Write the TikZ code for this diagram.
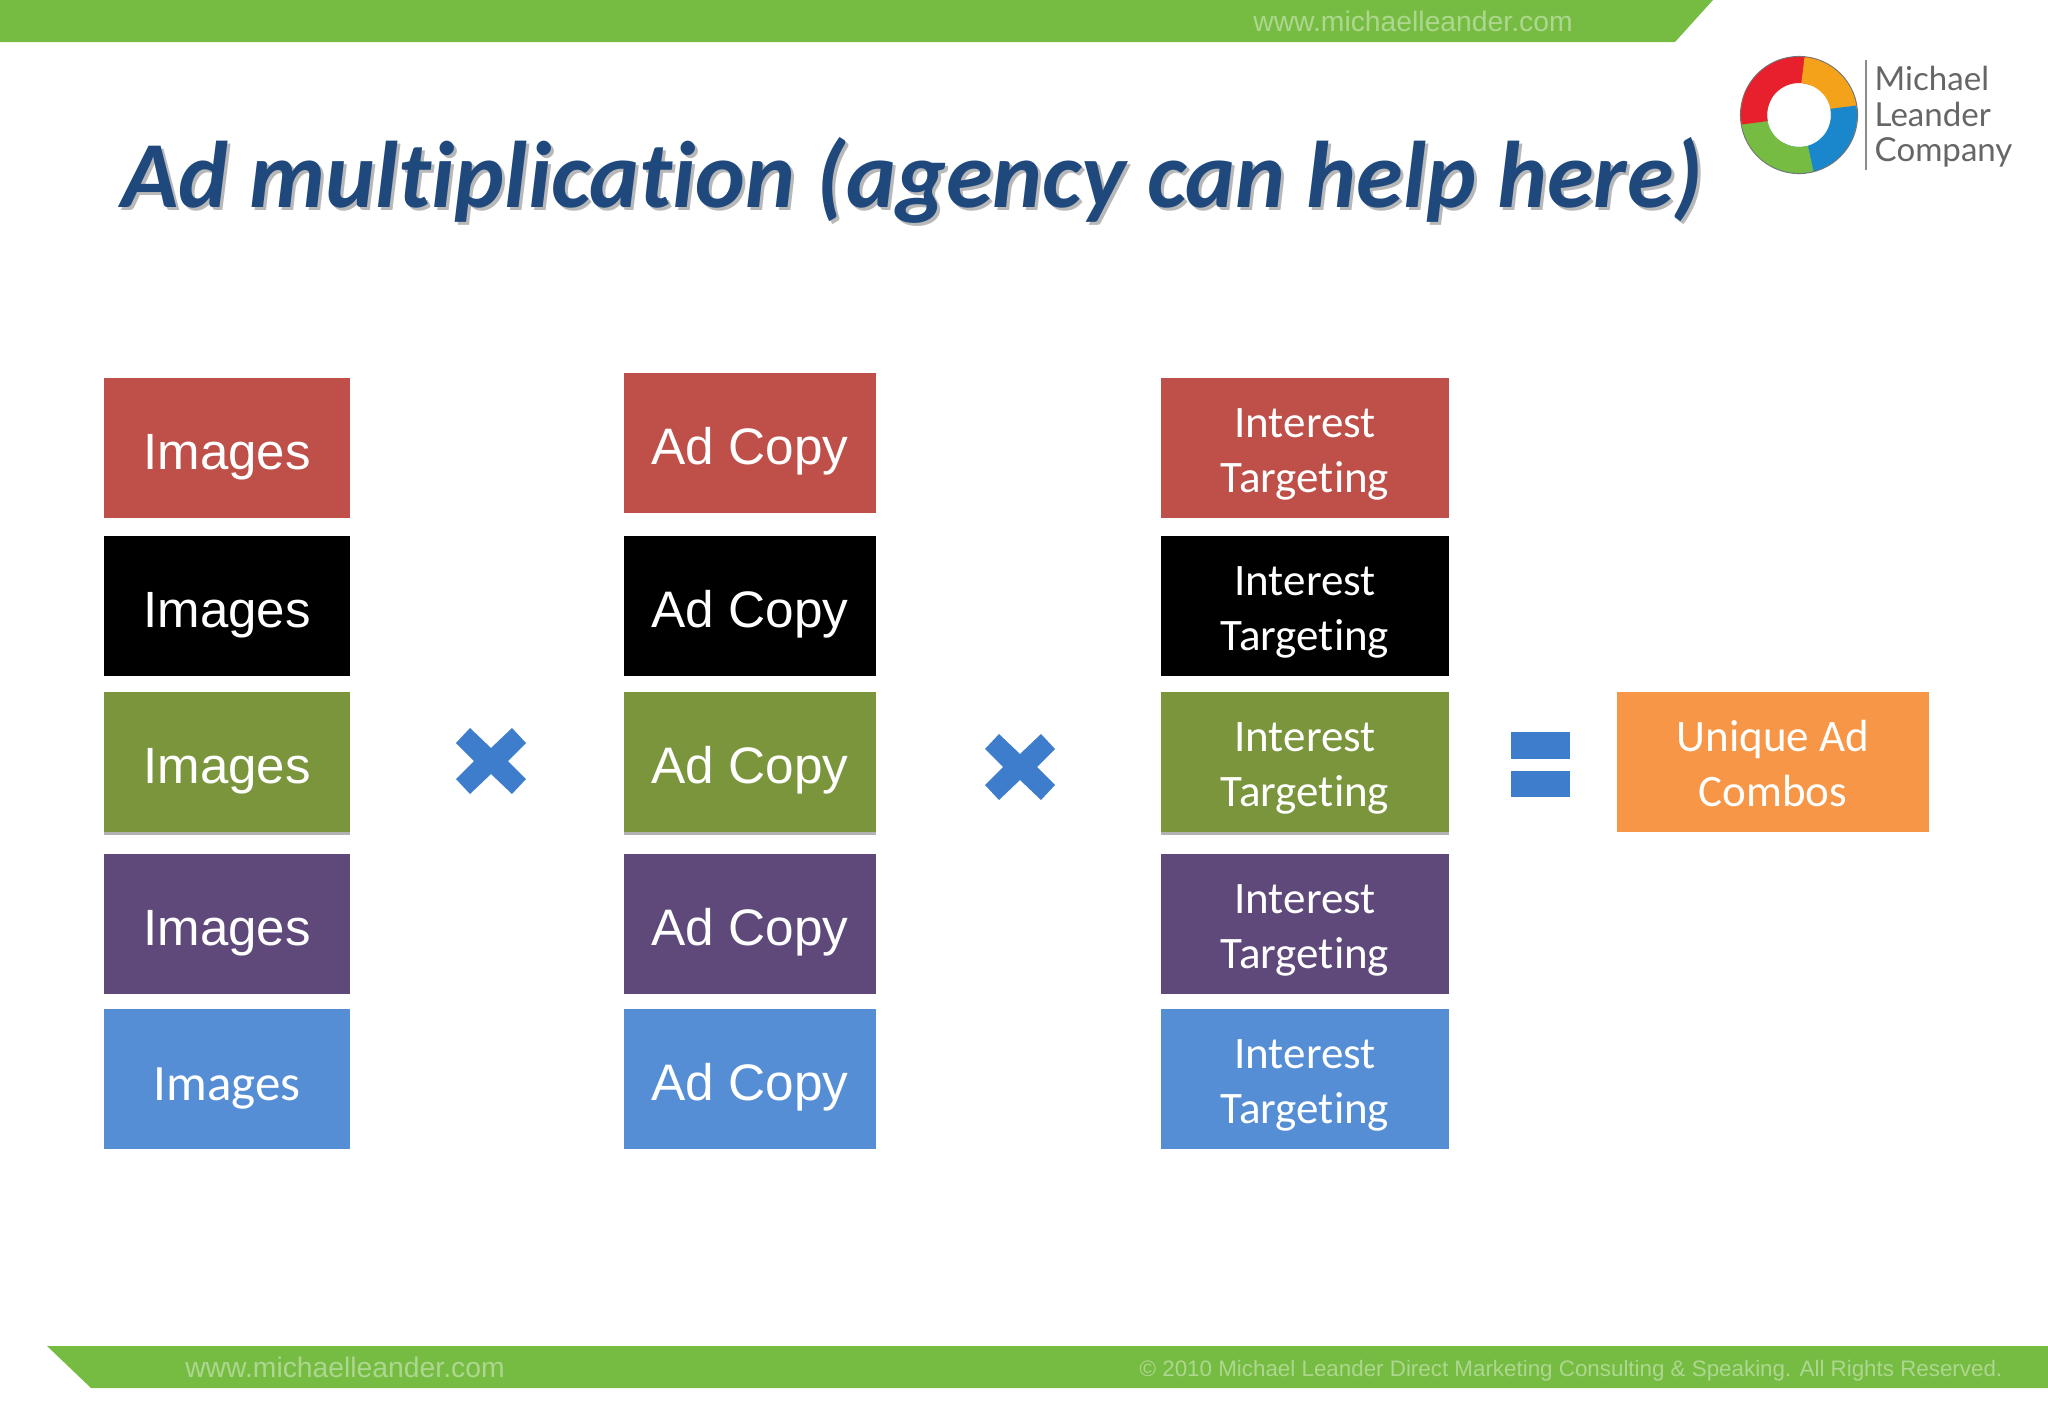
\documentclass[tikz,border=0pt]{standalone}
\usepackage{fontspec}
\setmainfont{Liberation Sans}
\newfontfamily\calibri[RawFeature={-liga}]{Carlito}
\newfontfamily\logofont{Lato}
\usetikzlibrary{shadows}
\definecolor{barGreen}{HTML}{76BC43}
\definecolor{titleBlue}{HTML}{1F497D}
\definecolor{signBlue}{HTML}{3E7DCC}
\definecolor{redBox}{HTML}{BE4F49}
\definecolor{greenBox}{HTML}{7B953D}
\definecolor{purpleBox}{HTML}{5F497A}
\definecolor{blueBox}{HTML}{558ED5}
\definecolor{orangeBox}{HTML}{F79646}
\definecolor{ringOrange}{HTML}{F5A21B}
\definecolor{ringBlue}{HTML}{1A86CC}
\definecolor{ringRed}{HTML}{E8202E}

\begin{document}
\begin{tikzpicture}[x=0.01cm,y=-0.01cm]
  \tikzstyle{imagebox}=[rectangle,inner sep=0pt,text=white,minimum width=2.46cm,minimum height=1.39cm,text height=15pt,text depth=3pt,font=\fontsize{14.5}{17}\selectfont]
  \tikzstyle{copybox}=[imagebox,minimum width=2.51cm,font=\fontsize{14.6}{17}\selectfont]
  \tikzstyle{targetbox}=[imagebox,minimum width=2.88cm,align=center,text height=28.2pt,font=\calibri\fontsize{12.8}{15.6}\selectfont]
  \tikzstyle{raised}=[drop shadow={shadow xshift=0pt,shadow yshift=-1pt,opacity=.3,fill=black}]
  \tikzstyle{sign}=[signBlue]
  \tikzstyle{ringpart}=[line width=0.26cm]
  \tikzstyle{bartext}=[inner sep=0pt,text=barGreen!60!white,font=\fontsize{8.05}{9}\selectfont]
  \tikzstyle{titletext}=[inner sep=0pt,font=\calibri\bfseries\itshape\fontsize{26.9}{32}\selectfont]
  \useasboundingbox (0,0) rectangle (2048,1418);
  % green bars
  \fill [barGreen] (0,0) -- (1713,0) -- (1675,42) -- (0,42) -- cycle;
  \fill [barGreen] (47,1346) -- (2048,1346) -- (2048,1388) -- (91,1388) -- cycle;
  \node [bartext] (urltop) at (1413,21) {www.michaelleander.com};
  \node [bartext] (urlbottom) at (345,1367) {www.michaelleander.com};
  \node [bartext,font=\fontsize{6.36}{7}\selectfont] (rights) at (1571,1371) {© 2010 Michael Leander Direct Marketing Consulting \& Speaking. All Rights Reserved.};
  % title
  \node [titletext,text=black!28] (titleshadow) at (915,183) {Ad multiplication (agency can help here)};
  \node [titletext,text=titleBlue] (title) at (912,180) {Ad multiplication (agency can help here)};
  % logo
  \draw [black!55,line width=0.6pt] (1799,115) circle (58);
  \draw [ringpart,ringRed] (1799,115) ++(170:45) arc (170:290:45);
  \draw [ringpart,ringOrange] (1799,115) ++(-85:45) arc (-85:20:45);
  \draw [ringpart,ringBlue] (1799,115) ++(-10:45) arc (-10:120:45);
  \draw [ringpart,barGreen] (1799,115) ++(75:45) arc (75:200:45);
  \draw [ringpart,ringRed] (1799,115) ++(170:45) arc (170:210:45);
  \draw [black!45,line width=0.8pt] (1866,60) -- (1866,170);
  \node [inner sep=0pt,anchor=west,align=left,text=black!60,font=\logofont\fontsize{9.4}{10.1}\selectfont] (logotext) at (1874,117) {Michael\\Leander\\Company};
  % first column
  \node [imagebox,fill=redBox] (im1) at (227,448) {Images};
  \node [imagebox,fill=black] (im2) at (227,606) {Images};
  \node [imagebox,fill=greenBox,raised] (im3) at (227,762) {Images};
  \node [imagebox,fill=purpleBox] (im4) at (227,924) {Images};
  \node [imagebox,fill=blueBox,font=\calibri\fontsize{14.5}{17}\selectfont] (im5) at (227,1079) {Images};
  % second column
  \node [copybox,fill=redBox] (ac1) at (750,443) {Ad Copy};
  \node [copybox,fill=black] (ac2) at (750,606) {Ad Copy};
  \node [copybox,fill=greenBox,raised] (ac3) at (750,762) {Ad Copy};
  \node [copybox,fill=purpleBox] (ac4) at (750,924) {Ad Copy};
  \node [copybox,fill=blueBox] (ac5) at (750,1079) {Ad Copy};
  % third column
  \node [targetbox,fill=redBox] (it1) at (1305,448) {Interest\\Targeting};
  \node [targetbox,fill=black] (it2) at (1305,606) {Interest\\Targeting};
  \node [targetbox,fill=greenBox,raised] (it3) at (1305,762) {Interest\\Targeting};
  \node [targetbox,fill=purpleBox] (it4) at (1305,924) {Interest\\Targeting};
  \node [targetbox,fill=blueBox] (it5) at (1305,1079) {Interest\\Targeting};
  \node [targetbox,fill=orangeBox,minimum width=3.12cm] (combo) at (1773,762) {Unique Ad\\Combos};
  % times and equals signs
  \fill [sign,shift={(491,761)}] (0,-13) -- (21,-33) -- (35,-18) -- (17,0) -- (35,18) -- (21,33) -- (0,13) -- (-21,33) -- (-35,18) -- (-17,0) -- (-35,-18) -- (-21,-33) -- cycle;
  \fill [sign,shift={(1020,767)}] (0,-13) -- (21,-33) -- (35,-18) -- (17,0) -- (35,18) -- (21,33) -- (0,13) -- (-21,33) -- (-35,18) -- (-17,0) -- (-35,-18) -- (-21,-33) -- cycle;
  \fill [sign] (1511,732) rectangle (1570,759);
  \fill [sign] (1511,771) rectangle (1570,797);
\end{tikzpicture}
\end{document}
